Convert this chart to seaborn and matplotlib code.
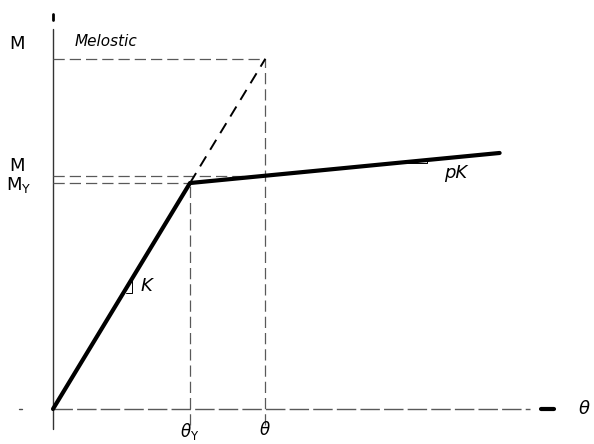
import matplotlib
matplotlib.use("Agg")
import matplotlib.pyplot as plt
import seaborn as sns

sns.set_theme(style="white")
plt.rcParams["font.family"] = ["DejaVu Sans"]
plt.rcParams["text.color"] = "black"

# Bilinear moment-rotation law (normalised: theta_y = 1, M_y = 1)
theta_pts = [0.0, 1.0, 3.26]
moment_pts = [0.0, 1.0, 1.133]
theta_y = 1.0
m_y = 1.0
theta_el = 1.55       # rotation considered
m_el = 1.55           # elastic moment at theta_el
m_hard = 1.032        # moment on the hardening branch at theta_el

fig = plt.figure(figsize=(5.94, 4.44), dpi=100)
ax = fig.add_axes([0, 0, 1, 1])
ax.set_xlim(-0.387, 3.949)
ax.set_ylim(-0.155, 1.81)
ax.axis("off")

dash = dict(color="0.35", lw=0.9, dashes=(9, 4), legend=False)

# axes
ax.plot([0, 3.48], [0, 0], color="0.35", lw=1.0, dashes=(14, 3))
ax.plot([-0.25, -0.23], [0, 0], color="0.3", lw=1.0)
ax.plot([0, 0], [-0.09, 1.68], color="0.2", lw=1.0)
ax.plot([0, 0], [1.72, 1.75], color="black", lw=2.0)
ax.plot([3.56, 3.66], [0, 0], color="black", lw=3.0)

# construction lines
sns.lineplot(x=[0, theta_el], y=[m_el, m_el], ax=ax, **dash)
sns.lineplot(x=[0, theta_el], y=[m_hard, m_hard], ax=ax, **dash)
sns.lineplot(x=[0, theta_y], y=[m_y, m_y], ax=ax, **dash)
sns.lineplot(x=[theta_el, theta_el], y=[-0.07, m_el], ax=ax, orient="y", **dash)
sns.lineplot(x=[theta_y, theta_y], y=[-0.07, m_y], ax=ax, orient="y", **dash)

# elastic extension
sns.lineplot(x=[theta_y, theta_el], y=[m_y, m_el], ax=ax, color="black",
             lw=1.4, dashes=(6, 4), legend=False)

# bilinear law
sns.lineplot(x=theta_pts, y=moment_pts, ax=ax, color="black", lw=3.0,
             legend=False, sort=False)

# slope triangles
ax.plot([0.58, 0.58, 0.53], [0.58, 0.515, 0.515], color="black", lw=0.7)
ax.plot([2.5, 2.73, 2.73], [1.09, 1.09, 1.105], color="black", lw=0.7)

fs = 13
ax.text(-0.26, 1.615, "M", fontsize=fs, ha="center", va="center")
ax.text(0.16, 1.625, "Melostic", fontsize=11, ha="left", va="center", style="italic")
ax.text(-0.26, 1.075, "M", fontsize=fs, ha="center", va="center")
ax.text(-0.25, 0.99, r"M$_\mathrm{Y}$", fontsize=fs, ha="center", va="center")
ax.text(0.64, 0.545, "K", fontsize=fs, ha="left", va="center", style="italic")
ax.text(2.94, 1.045, "pK", fontsize=fs, ha="center", va="center", style="italic")
ax.text(theta_y, -0.055, r"$\theta_\mathrm{Y}$", fontsize=12, ha="center", va="top")
ax.text(theta_el, -0.055, r"$\theta$", fontsize=12, ha="center", va="top")
ax.text(3.88, 0.0, r"$\theta$", fontsize=fs, ha="center", va="center")

fig.savefig("out.png", dpi=100)
